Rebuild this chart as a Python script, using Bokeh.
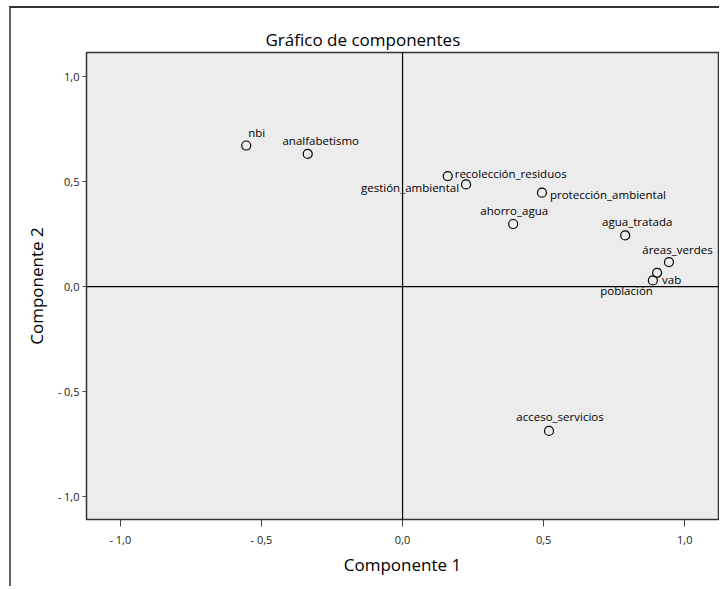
from bokeh.plotting import figure
from bokeh.models import Range1d, FixedTicker, Span, ColumnDataSource
from bokeh.core.properties import value
from bokeh.embed import file_html
from bokeh.resources import INLINE

# ---- data ----
variables = ["nbi", "analfabetismo", "recolección_residuos", "gestión_ambiental",
             "protección_ambiental", "ahorro_agua", "agua_tratada", "áreas_verdes",
             "vab", "población", "acceso_servicios"]
comp1 = [-0.554, -0.336, 0.160, 0.225, 0.494, 0.392, 0.789, 0.944, 0.902, 0.887, 0.519]
comp2 = [0.670, 0.630, 0.525, 0.485, 0.446, 0.297, 0.243, 0.116, 0.065, 0.029, -0.686]
tick_values = [-1.0, -0.5, 0.0, 0.5, 1.0]
tick_labels = ["- 1,0", "- 0,5", "0,0", "0,5", "1,0"]

# ---- label placement (style) ----
label_align = ["left", "center", "left", "right", "left", "center", "center", "center",
               "left", "right", "center"]
label_dx = [2, 13, 7, -7, 8, 1, 12, 8.5, 5, 0, 11]
label_dy = [-13, -13.5, -2.5, 3, 1.5, -14, -14, -13, 6.5, 10, -14]

FONT = "Open Sans"

p = figure(width=710, height=580,
           x_range=Range1d(-1.12, 1.1196), y_range=Range1d(-1.107, 1.112),
           output_backend="svg", toolbar_location=None,
           min_border_left=75, min_border_top=44, min_border_bottom=69, min_border_right=3)

p.styles = {"margin-left": "9px", "margin-top": "6px",
            "border-top": "2px solid #333333", "border-left": "2px solid #666666"}

p.background_fill_color = "#ECECEC"
p.border_fill_color = "white"
p.outline_line_color = "#333333"
p.outline_line_width = 1.5
p.xgrid.visible = False
p.ygrid.visible = False

p.title.text = "Gráfico de componentes"
p.title.align = "left"
p.title.offset = 179
p.title.text_font = FONT
p.title.text_font_size = "17px"
p.title.text_font_style = "normal"
p.title.text_color = "black"
p.title.standoff = 4

for ax in (p.xaxis[0], p.yaxis[0]):
    ax.ticker = FixedTicker(ticks=tick_values)
    ax.major_label_overrides = dict(zip(tick_values, tick_labels))
    ax.axis_line_color = None
    ax.major_tick_line_color = "#444444"
    ax.major_tick_in = 0
    ax.minor_tick_line_color = None
    ax.major_label_text_font = FONT
    ax.major_label_text_font_size = "11px"
    ax.major_label_text_color = "#222222"
    ax.axis_label_text_font = FONT
    ax.axis_label_text_font_size = "17px"
    ax.axis_label_text_font_style = "normal"
    ax.axis_label_text_color = "black"

p.xaxis.axis_label = "Componente 1"
p.yaxis.axis_label = "Componente 2"
p.xaxis.major_tick_out = 7
p.yaxis.major_tick_out = 4
p.xaxis.major_label_standoff = 5
p.yaxis.major_label_standoff = 3
p.xaxis.axis_label_standoff = 3
p.yaxis.axis_label_standoff = 7

p.add_layout(Span(location=0, dimension="width", line_color="black", line_width=1.2))
p.add_layout(Span(location=0, dimension="height", line_color="black", line_width=1.2))

src = ColumnDataSource(dict(x=comp1, y=comp2, name=variables,
                            align=label_align, dx=label_dx, dy=label_dy))

p.scatter("x", "y", source=src, marker="circle", size=9, fill_alpha=0,
          line_color="black", line_width=1.2)
p.text("x", "y", text="name", source=src, text_align="align", text_baseline="middle",
       x_offset="dx", y_offset="dy", text_font=value(FONT), text_font_size="11.5px",
       text_color="black")

open("out.html", "w").write(file_html(p, INLINE))
